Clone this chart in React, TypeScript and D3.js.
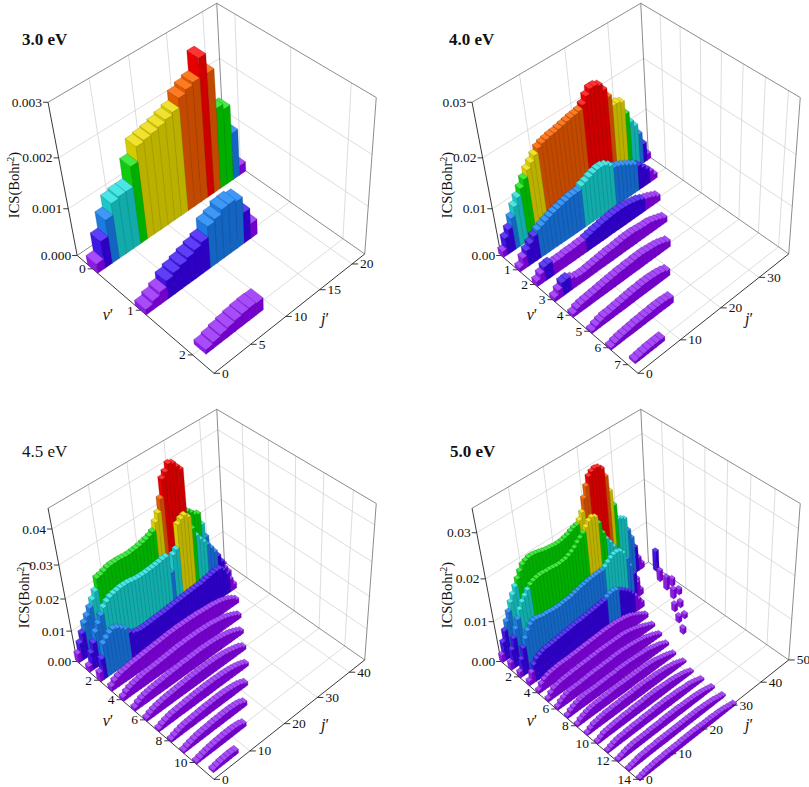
import { useMemo } from 'react';
import * as d3 from 'd3';

// ICS(Bohr^2) per v' row (outer index = v'), inner index = j'.
// 3.0 eV values are in 1e-4 Bohr^2, the other energies in 1e-3 Bohr^2.
const ics30: number[][] = [
  [2, 5.8, 9.2, 11.6, 12, 12, 16, 18.9, 19.2, 19.5, 19.9, 20.4, 20.9, 22.7, 23.4, 23.9, 27.5, 24, 16.5, 15.5, 9.8, 2],
  [1.2, 1.9, 2.6, 3.9, 4.5, 5, 5.5, 6, 6.6, 8.8, 9.3, 10.2, 10.3, 9.8, 6.5, 3.2],
  [0, 1.0, 1.4, 1.8, 2.1, 2.4, 2.6, 2.7, 2.6],
];

const ics40: number[][] = [
  [1.3, 3.5, 4.8, 6.6, 8.4, 9.7, 11, 12.3, 13.6, 14.5, 15.4, 16.3, 16.7, 16.9, 17.1, 17.2, 17.4, 17.6, 17.8, 18.0, 18.1, 18.3, 19.0, 20.2, 21.1, 21.1, 20.7, 19.4, 17.6, 15.4, 15.4, 15.0, 12.3, 10.1, 8.8, 6.6, 4.0, 1.3],
  [0.9, 2.3, 3.3, 4.2, 5.1, 5.8, 6.1, 6.5, 6.8, 7.1, 7.3, 7.5, 7.7, 7.9, 7.95, 8.0, 8.6, 8.9, 9.3, 9.6, 9.8, 9.8, 9.5, 8.8, 8.0, 7.7, 7.3, 6.8, 6.3, 5.8, 5.1, 4.2, 3.3, 2.3, 1.1],
  [1.1, 2.0, 2.9, 3.0, 2.4, 2.4, 2.4, 2.5, 2.5, 2.5, 2.6, 2.6, 2.8, 3.0, 3.2, 3.3, 3.5, 3.6, 3.7, 3.8, 3.8, 3.8, 3.7, 3.6, 3.4, 3.2, 2.8, 2.4, 2.1, 1.7, 1.3],
  [0.9, 1.8, 2.8, 2.9, 2.3, 1.8, 1.7, 1.7, 1.8, 1.9, 2.0, 2.1, 2.2, 2.3, 2.3, 2.4, 2.5, 2.6, 2.6, 2.6, 2.5, 2.4, 2.3, 2.3, 2.1, 1.8, 1.5, 1.2],
  [0.7, 1.2, 1.4, 1.5, 1.6, 1.7, 1.8, 1.9, 2.0, 2.1, 2.2, 2.3, 2.3, 2.4, 2.4, 2.5, 2.5, 2.5, 2.4, 2.3, 2.2, 2.0, 1.7, 1.4],
  [0.5, 0.9, 1.2, 1.4, 1.4, 1.5, 1.6, 1.7, 1.8, 1.9, 2.0, 2.0, 2.1, 2.1, 2.1, 2.0, 1.9, 1.7, 1.4],
  [0.5, 0.8, 1.0, 1.1, 1.2, 1.3, 1.4, 1.4, 1.5, 1.5, 1.6, 1.6, 1.6, 1.5, 1.4],
  [0, 0.6, 0.7, 0.8, 0.9, 0.9, 0.9, 0.9],
];

const ics45: number[][] = [
  [2.8, 5.5, 8, 10.5, 12, 13.8, 15.6, 17.5, 20.8, 21, 21.4, 21.8, 22, 22, 22, 21.9, 21.8, 21.8, 21.9, 22, 22.2, 22.5, 22.8, 23.2, 23.8, 26, 28, 31.5, 36.5, 37.8, 39.5, 39, 37.5, 36.2, 23.5, 22.5, 21.3, 20.8, 17, 12.5, 7.5, 4, 2, 1, 0.5],
  [1.8, 5.3, 7.8, 10.5, 12.4, 14.3, 16, 17, 17.7, 18, 18.2, 18.4, 18.4, 18.4, 18.2, 18, 17.9, 17.9, 17.9, 18, 18.1, 18.2, 18.4, 18.6, 18.7, 13.3, 18, 19, 25.8, 26.8, 27.2, 26, 22, 19.3, 17.5, 16, 14.5, 12.8, 11, 9, 6.5, 3.7, 1.8],
  [2.8, 6.5, 10.5, 11.5, 12.4, 12.9, 12.4, 11.5, 10.5, 8.7, 7.8, 7.4, 7.2, 7.2, 7.2, 7.3, 7.4, 7.5, 7.5, 7.6, 7.7, 7.8, 7.9, 8.0, 8.1, 8.2, 8.3, 8.4, 8.5, 8.6, 8.6, 8.8, 9.0, 9.2, 9.4, 9.5, 9.4, 8.3, 6.4, 4.1, 1.8],
  [1.5, 2.5, 3, 3.3, 3.5, 3.7, 3.9, 4.0, 4.1, 4.2, 4.3, 4.4, 4.5, 4.6, 4.7, 4.8, 4.9, 5.0, 5.0, 5.1, 5.1, 5.1, 5.1, 5.1, 5.0, 5.0, 4.9, 4.8, 4.7, 4.6, 4.5, 4.3, 4.1, 3.8, 3.4, 2.9, 2.3, 1.5],
  [1.2, 2, 2.5, 2.8, 3.0, 3.2, 3.4, 3.5, 3.6, 3.7, 3.8, 3.9, 4.0, 4.1, 4.2, 4.3, 4.4, 4.4, 4.5, 4.5, 4.5, 4.5, 4.5, 4.4, 4.4, 4.3, 4.2, 4.0, 3.8, 3.6, 3.3, 2.9, 2.4, 1.9, 1.3],
  [1.0, 1.7, 2.2, 2.5, 2.7, 2.9, 3.0, 3.1, 3.2, 3.3, 3.4, 3.5, 3.6, 3.7, 3.8, 3.8, 3.9, 3.9, 4.0, 4.0, 4.0, 3.9, 3.9, 3.8, 3.7, 3.5, 3.3, 3.0, 2.7, 2.3, 1.8, 1.2],
  [0.9, 1.5, 1.9, 2.2, 2.4, 2.6, 2.7, 2.8, 2.9, 3.0, 3.1, 3.2, 3.3, 3.4, 3.4, 3.5, 3.5, 3.5, 3.5, 3.4, 3.4, 3.3, 3.2, 3.0, 2.8, 2.5, 2.2, 1.8, 1.2],
  [0.8, 1.3, 1.7, 2.0, 2.2, 2.3, 2.4, 2.5, 2.6, 2.7, 2.8, 2.9, 2.9, 3.0, 3.0, 3.0, 3.0, 2.9, 2.9, 2.8, 2.7, 2.5, 2.3, 2.0, 1.6, 1.1],
  [0.7, 1.1, 1.5, 1.8, 2.0, 2.1, 2.2, 2.3, 2.4, 2.5, 2.6, 2.6, 2.7, 2.7, 2.7, 2.7, 2.6, 2.5, 2.3, 2.1, 1.7, 1.2],
  [0.6, 1.0, 1.3, 1.6, 1.8, 1.9, 2.0, 2.1, 2.2, 2.3, 2.3, 2.4, 2.4, 2.4, 2.3, 2.2, 1.9, 1.4],
  [0.6, 0.9, 1.2, 1.4, 1.6, 1.7, 1.8, 1.9, 2.0, 2.0, 2.0, 1.9, 1.7, 1.3],
  [0, 0.8, 1.0, 1.2, 1.3, 1.4, 1.4, 1.3],
];

const ics50: number[][] = [
  [1.8, 4.5, 6.8, 8.6, 10.4, 12.2, 13.5, 14.9, 16.2, 17.5, 18.5, 18.9, 19.2, 19.2, 19.1, 18.9, 18.7, 18.5, 18.4, 18.3, 18.2, 18.2, 18.3, 18.5, 18.7, 19.1, 19.4, 19.6, 20.3, 21.6, 24.3, 26.5, 28.2, 28.8, 29.1, 28.9, 28.2, 26.1, 22.5, 18.9, 15.3, 14.9, 14.4, 11.3, 9, 6.3, 3.2, 1.4],
  [1.8, 4.5, 6.8, 8.6, 10.4, 12.2, 13.5, 14.4, 15.3, 16, 16.4, 16.6, 16.7, 16.7, 16.6, 16.6, 16.5, 16.4, 16.4, 16.5, 16.6, 16.9, 17.3, 17.8, 18.5, 19.1, 19.8, 20.7, 21.6, 22, 21.6, 19.8, 17.1, 15.3, 14, 12.6, 11.3, 9.9, 8.1, 6.3, 4.5, 2.7, 1.4, 0, 0, 0, 0, 0, 0, 5],
  [1.4, 4, 6.3, 8.1, 9.5, 10.4, 10.8, 10.8, 10.6, 10.4, 10.4, 10.3, 10.2, 10.2, 10.2, 10.3, 10.4, 10.4, 10.6, 10.8, 11, 11.2, 11.3, 11.5, 11.6, 11.7, 11.7, 11.7, 11.8, 12.2, 12.8, 13.3, 13.7, 13.8, 13.5, 12.6, 10.8, 8.6, 6.3, 3.6, 1.4, 0, 0, 0, 0, 0, 0, 2.7],
  [1.1, 2.7, 4.1, 5, 5.4, 5.7, 5.9, 5.9, 6, 6.1, 6.2, 6.3, 6.4, 6.5, 6.6, 6.7, 6.8, 6.8, 6.9, 7, 7.1, 7.2, 7.3, 7.4, 7.5, 7.6, 8.1, 8.4, 8.5, 8.3, 7.7, 7.2, 6.6, 5.9, 5, 3.9, 2.7, 1.4, 0, 0, 0, 0, 0, 0, 0, 0, 3.2, 0, 1.8],
  [0.8, 1.8, 2.4, 2.7, 2.9, 3, 3.1, 3.2, 3.2, 3.2, 3.2, 3.3, 3.3, 3.4, 3.4, 3.5, 3.5, 3.6, 3.6, 3.7, 3.7, 3.8, 3.8, 3.8, 3.8, 3.8, 3.7, 3.6, 3.5, 3.3, 3.1, 2.7, 2.3, 1.9, 1.4, 1, 0, 0, 0, 0, 0, 0, 0, 0, 0, 2.3, 0, 1.4],
  [0.7, 1.5, 2.1, 2.3, 2.5, 2.6, 2.7, 2.7, 2.8, 2.8, 2.9, 2.9, 3.0, 3.0, 3.1, 3.1, 3.2, 3.2, 3.2, 3.2, 3.2, 3.2, 3.2, 3.2, 3.2, 3.1, 3.0, 2.8, 2.6, 2.3, 2.1, 1.7, 1.4, 1.0, 0.7, 0, 0, 0, 0, 0, 0, 0, 1.8, 0, 1.4],
  [0.7, 1.4, 1.8, 2.1, 2.3, 2.3, 2.4, 2.4, 2.5, 2.5, 2.6, 2.6, 2.7, 2.7, 2.7, 2.8, 2.8, 2.8, 2.9, 2.9, 2.9, 2.9, 2.8, 2.8, 2.7, 2.6, 2.5, 2.3, 2.2, 1.9, 1.6, 1.4, 1.0, 0.7, 0, 0, 0, 0, 0, 0, 1.6, 0, 1.1],
  [0.6, 1.2, 1.6, 1.9, 2.1, 2.2, 2.3, 2.3, 2.3, 2.3, 2.4, 2.4, 2.4, 2.5, 2.5, 2.5, 2.6, 2.6, 2.6, 2.6, 2.6, 2.5, 2.5, 2.4, 2.3, 2.3, 2.2, 2.0, 1.8, 1.6, 1.4, 1.0, 0.7, 0, 0, 0, 0, 0, 1.4],
  [0.5, 1.1, 1.4, 1.7, 1.9, 2.0, 2.1, 2.1, 2.2, 2.2, 2.2, 2.3, 2.3, 2.3, 2.3, 2.3, 2.3, 2.3, 2.3, 2.3, 2.3, 2.3, 2.2, 2.2, 2.1, 2.0, 1.8, 1.6, 1.4, 1.2, 0.9, 0.6],
  [0.5, 1.0, 1.4, 1.5, 1.7, 1.8, 1.9, 1.9, 2.0, 2.0, 2.0, 2.1, 2.1, 2.1, 2.1, 2.2, 2.2, 2.2, 2.2, 2.2, 2.1, 2.1, 2.1, 2.0, 1.9, 1.8, 1.7, 1.5, 1.4, 1.1, 0.8, 0.5],
  [0.5, 0.9, 1.3, 1.4, 1.5, 1.6, 1.7, 1.7, 1.8, 1.8, 1.8, 1.9, 1.9, 1.9, 1.9, 2.0, 2.0, 2.0, 2.0, 2.0, 1.9, 1.9, 1.8, 1.8, 1.7, 1.6, 1.4, 1.3, 1.1, 0.8, 0.5],
  [0.5, 0.8, 1.1, 1.3, 1.4, 1.4, 1.5, 1.5, 1.6, 1.6, 1.6, 1.7, 1.7, 1.7, 1.7, 1.8, 1.8, 1.8, 1.8, 1.8, 1.7, 1.7, 1.7, 1.6, 1.5, 1.4, 1.4, 1.2, 1.0, 0.7, 0.5],
  [0.5, 0.7, 1.0, 1.2, 1.3, 1.4, 1.4, 1.4, 1.4, 1.4, 1.5, 1.5, 1.5, 1.5, 1.6, 1.6, 1.6, 1.6, 1.6, 1.6, 1.5, 1.5, 1.5, 1.4, 1.4, 1.3, 1.2, 1.1, 0.9, 0.7, 0.5],
  [0.5, 0.7, 0.9, 1.1, 1.2, 1.2, 1.3, 1.3, 1.3, 1.4, 1.4, 1.4, 1.4, 1.4, 1.4, 1.4, 1.4, 1.4, 1.4, 1.4, 1.4, 1.4, 1.4, 1.3, 1.3, 1.2, 1.1, 1.0, 0.8, 0.6, 0.5],
  [0.4, 0.6, 0.8, 0.9, 1.0, 1.1, 1.1, 1.1, 1.2, 1.2, 1.2, 1.2, 1.2, 1.3, 1.3, 1.3, 1.3, 1.3, 1.3, 1.3, 1.2, 1.2, 1.2, 1.2, 1.1, 1.1, 1.0, 0.9, 0.7, 0.5, 0.4],
];

// axis ticks
const zTicks30 = [0, 0.001, 0.002, 0.003];
const zTicks40 = [0, 0.01, 0.02, 0.03];
const zTicks45 = [0, 0.01, 0.02, 0.03, 0.04];
const zTicks50 = [0, 0.01, 0.02, 0.03];
const vTicks30 = [0, 1, 2];
const vTicks40 = [1, 2, 3, 4, 5, 6, 7];
const vTicks45 = [2, 4, 6, 8, 10];
const vTicks50 = [2, 4, 6, 8, 10, 12, 14];
const jTicks30 = [0, 5, 10, 15, 20];
const jTicks40 = [0, 10, 20, 30];
const jTicks45 = [0, 10, 20, 30, 40];
const jTicks50 = [0, 10, 20, 30, 40, 50];

// rainbow levels: [front (+v) face, side (-j) face, top face]
const LEVELS = [
  ['#7400cc', '#8c1ce6', '#a64cfa'],
  ['#2e00c6', '#4016e2', '#5e3ef8'],
  ['#1464c2', '#1c7ae0', '#3e98f8'],
  ['#12aaaa', '#1cc6c6', '#4ae6e6'],
  ['#00ae00', '#10ca10', '#44ea44'],
  ['#bab000', '#d6ca00', '#f0e22e'],
  ['#c24a00', '#e25a00', '#ff7a22'],
  ['#cc0000', '#e60000', '#ff3434'],
];

const FONT = "'Liberation Serif', 'Times New Roman', Times, serif";
const W = 809;
const H = 787;

// box corners of the first panel in pixels, in unit-cube coordinates (v, j, z)
const CAM_PTS: [number[], number[]][] = [
  [[0, 0, 0], [77.3, 256]],
  [[0, 0, 1 / 3], [68.5, 209.3]],
  [[0, 0, 2 / 3], [58.7, 157.3]],
  [[0, 0, 1], [48.3, 101.7]],
  [[0, 1, 1], [216, 3.3]],
  [[1, 1, 1], [376.7, 98.3]],
  [[1, 1, 0], [365, 253.3]],
  [[1, 0, 0], [213.3, 373.3]],
  [[0, 1, 0], [224.5, 156]],
];

// least-squares pinhole camera (DLT) from the corner points above
function fitCamera(pairs: [number[], number[]][]) {
  const rows: number[][] = [];
  const rhs: number[] = [];
  for (const [[X, Y, Z], [u0, v0]] of pairs) {
    const u = (u0 - 200) / 200;
    const v = (v0 - 200) / 200;
    rows.push([X, Y, Z, 1, 0, 0, 0, 0, -u * X, -u * Y, -u * Z]); rhs.push(u);
    rows.push([0, 0, 0, 0, X, Y, Z, 1, -v * X, -v * Y, -v * Z]); rhs.push(v);
  }
  const M = Array.from({ length: 11 }, () => new Array(12).fill(0));
  rows.forEach((r, n) => {
    for (let i = 0; i < 11; i++) {
      for (let k = 0; k < 11; k++) M[i][k] += r[i] * r[k];
      M[i][11] += r[i] * rhs[n];
    }
  });
  for (let c = 0; c < 11; c++) {
    let piv = c;
    for (let r = c + 1; r < 11; r++) if (Math.abs(M[r][c]) > Math.abs(M[piv][c])) piv = r;
    [M[c], M[piv]] = [M[piv], M[c]];
    for (let r = 0; r < 11; r++) {
      if (r === c) continue;
      const f = M[r][c] / M[c][c];
      for (let k = c; k < 12; k++) M[r][k] -= f * M[c][k];
    }
  }
  const p = M.map((row, i) => row[11] / row[i]);
  return (X: number, Y: number, Z: number): [number, number] => {
    const d = p[8] * X + p[9] * Y + p[10] * Z + 1;
    return [
      200 + 200 * (p[0] * X + p[1] * Y + p[2] * Z + p[3]) / d,
      200 + 200 * (p[4] * X + p[5] * Y + p[6] * Z + p[7]) / d,
    ];
  };
}

const project = fitCamera(CAM_PTS);

interface PanelCfg {
  title: string;
  bold: boolean;
  rows: number[][];
  unit: number;
  zTop: number;
  colorTop: number;
  zTicks: number[];
  zFmt: string;
  vDom: [number, number];
  jDom: [number, number];
  vTicks: number[];
  jTicks: number[];
  barW: number;
  offset: [number, number];
  titlePos: [number, number];
  icsPos: [number, number];
}

const panels: PanelCfg[] = [
  { title: '3.0 eV', bold: true, rows: ics30, unit: 1e-4, zTop: 0.003, colorTop: 0.003, zTicks: zTicks30, zFmt: '.3f',
    vDom: [-0.34, 2.39], jDom: [0, 22], vTicks: vTicks30, jTicks: jTicks30, barW: 0.22,
    offset: [0, 0], titlePos: [22, 45], icsPos: [19, 185] },
  { title: '4.0 eV', bold: true, rows: ics40, unit: 1e-3, zTop: 0.03, colorTop: 0.0215, zTicks: zTicks40, zFmt: '.2f',
    vDom: [0, 7.5], jDom: [0, 38], vTicks: vTicks40, jTicks: jTicks40, barW: 0.3,
    offset: [424, 0], titlePos: [25, 45], icsPos: [28, 185] },
  { title: '4.5 eV', bold: false, rows: ics45, unit: 1e-3, zTop: 0.0455, colorTop: 0.041, zTicks: zTicks45, zFmt: '.2f',
    vDom: [0, 11.5], jDom: [0, 45], vTicks: vTicks45, jTicks: jTicks45, barW: 0.35,
    offset: [0, 406], titlePos: [22, 51], icsPos: [29, 189] },
  { title: '5.0 eV', bold: true, rows: ics50, unit: 1e-3, zTop: 0.035, colorTop: 0.032, zTicks: zTicks50, zFmt: '.2f',
    vDom: [0, 14], jDom: [0, 50], vTicks: vTicks50, jTicks: jTicks50, barW: 0.35,
    offset: [424, 406], titlePos: [26, 51], icsPos: [28, 189] },
];

const poly = (pts: number[][]) =>
  'M' + pts.map((q) => q[0].toFixed(2) + ',' + q[1].toFixed(2)).join('L') + 'Z';
const seg = (a: number[], b: number[]) =>
  `M${a[0].toFixed(2)},${a[1].toFixed(2)}L${b[0].toFixed(2)},${b[1].toFixed(2)}`;

function Panel({ cfg }: { cfg: PanelCfg }) {
  const body = useMemo(() => {
    const xs = d3.scaleLinear().domain(cfg.vDom).range([0, 1]);
    const ys = d3.scaleLinear().domain(cfg.jDom).range([0, 1]);
    const zs = d3.scaleLinear().domain([0, cfg.zTop]).range([0, 1]);
    const level = d3.scaleQuantize<number>().domain([0, cfg.colorTop]).range(d3.range(8));
    const [ox, oy] = cfg.offset;
    const N = (X: number, Y: number, Z: number) => {
      const [x, y] = project(X, Y, Z);
      return [x + ox, y + oy];
    };
    const P = (v: number, j: number, z: number) => N(xs(v), ys(j), zs(z));
    const inner = (t: number) => t > 1e-6 && t < 1 - 1e-6;
    const zIn = cfg.zTicks.map((t) => zs(t)).filter(inner);
    const vIn = cfg.vTicks.map((t) => xs(t)).filter(inner);
    const jIn = cfg.jTicks.map((t) => ys(t)).filter(inner);

    let grid = '';
    jIn.forEach((Y) => { grid += seg(N(0, Y, 0), N(0, Y, 1)); });
    zIn.forEach((Z) => { grid += seg(N(0, 0, Z), N(0, 1, Z)) + seg(N(0, 1, Z), N(1, 1, Z)); });
    vIn.forEach((X) => { grid += seg(N(X, 1, 0), N(X, 1, 1)) + seg(N(X, 0, 0), N(X, 1, 0)); });
    jIn.forEach((Y) => { grid += seg(N(0, Y, 0), N(1, Y, 0)); });

    const frame =
      seg(N(0, 0, 1), N(0, 1, 1)) + seg(N(0, 1, 1), N(0, 1, 0)) + seg(N(0, 1, 1), N(1, 1, 1)) +
      seg(N(1, 1, 1), N(1, 1, 0)) + seg(N(0, 0, 0), N(0, 1, 0)) + seg(N(0, 1, 0), N(1, 1, 0));
    const axes = seg(N(0, 0, 0), N(0, 0, 1)) + seg(N(0, 0, 0), N(1, 0, 0)) + seg(N(1, 0, 0), N(1, 1, 0));

    const faces: JSX.Element[] = [];
    const w2 = cfg.barW / 2;
    cfg.rows.forEach((row, v) => {
      for (let j = row.length - 1; j >= 0; j--) {
        const val = row[j] * cfg.unit;
        if (!(val > 0)) continue;
        const [cf, cs, ct] = LEVELS[level(Math.min(val, cfg.colorTop * 0.9999))];
        const x0 = v - w2, x1 = v + w2, y0 = j, y1 = j + 1;
        const edge = d3.color(cf)!.darker(0.9).formatHex();
        const k = `${v}-${j}`;
        faces.push(<path key={k + 's'} d={poly([P(x0, y0, 0), P(x1, y0, 0), P(x1, y0, val), P(x0, y0, val)])} fill={cs} stroke={edge} strokeWidth={0.3} />);
        faces.push(<path key={k + 'f'} d={poly([P(x1, y0, 0), P(x1, y1, 0), P(x1, y1, val), P(x1, y0, val)])} fill={cf} stroke={edge} strokeWidth={0.3} />);
        faces.push(<path key={k + 't'} d={poly([P(x0, y0, val), P(x1, y0, val), P(x1, y1, val), P(x0, y1, val)])} fill={ct} stroke={edge} strokeWidth={0.3} />);
      }
    });

    const fmt = d3.format(cfg.zFmt);
    const labels: JSX.Element[] = [];
    let ticks = '';
    cfg.zTicks.forEach((t, i) => {
      const [x, y] = N(0, 0, zs(t));
      ticks += `M${(x - 5).toFixed(2)},${y.toFixed(2)}H${x.toFixed(2)}`;
      labels.push(<text key={'z' + i} x={x - 6} y={y + 4.5} textAnchor="end">{fmt(t)}</text>);
    });
    cfg.vTicks.forEach((t, i) => {
      const [x, y] = N(xs(t), 0, 0);
      ticks += `M${(x - 5).toFixed(2)},${y.toFixed(2)}H${x.toFixed(2)}`;
      labels.push(<text key={'v' + i} x={x - 7} y={y + 4.5} textAnchor="end">{t}</text>);
    });
    cfg.jTicks.forEach((t, i) => {
      const [x, y] = N(1, ys(t), 0);
      ticks += `M${x.toFixed(2)},${y.toFixed(2)}H${(x + 6).toFixed(2)}`;
      labels.push(<text key={'j' + i} x={x + 8} y={y + 4.5} textAnchor="start">{t}</text>);
    });

    return { grid, frame, axes, faces, ticks, labels };
  }, [cfg]);

  const [ox, oy] = cfg.offset;
  return (
    <g>
      <path d={body.grid} fill="none" stroke="#cfcfcf" strokeWidth={0.7} />
      <path d={body.frame} fill="none" stroke="#6e6e6e" strokeWidth={0.8} />
      <path d={body.axes} fill="none" stroke="#222" strokeWidth={0.9} />
      {body.faces}
      <path d={body.ticks} fill="none" stroke="#222" strokeWidth={0.9} />
      <g fontFamily={FONT} fontSize={13.5} fill="#111">{body.labels}</g>
      <text x={ox + cfg.titlePos[0]} y={oy + cfg.titlePos[1]} fontFamily={FONT} fontSize={17}
        fontWeight={cfg.bold ? 'bold' : 'normal'} fill="#111">{cfg.title}</text>
      <text transform={`translate(${ox + cfg.icsPos[0]},${oy + cfg.icsPos[1]}) rotate(-90)`}
        textAnchor="middle" fontFamily={FONT} fontSize={14.5} fill="#111">
        ICS(Bohr<tspan dy={-5} fontSize={10}>2</tspan><tspan dy={5}>)</tspan>
      </text>
      <text x={ox + 108} y={oy + 320} textAnchor="middle" fontFamily={FONT} fontSize={16} fill="#111">
        <tspan fontStyle="italic">v</tspan>′
      </text>
      <text x={ox + 325} y={oy + 324} textAnchor="middle" fontFamily={FONT} fontSize={16} fill="#111">
        <tspan fontStyle="italic">j</tspan>′
      </text>
    </g>
  );
}

export default function App() {
  return (
    <div style={{ position: 'absolute', left: 0, top: 0, background: '#fff' }}>
      <svg width={W} height={H} viewBox={`0 0 ${W} ${H}`} style={{ display: 'block' }}>
        <rect width={W} height={H} fill="#fff" />
        {panels.map((p) => <Panel key={p.title} cfg={p} />)}
      </svg>
    </div>
  );
}
